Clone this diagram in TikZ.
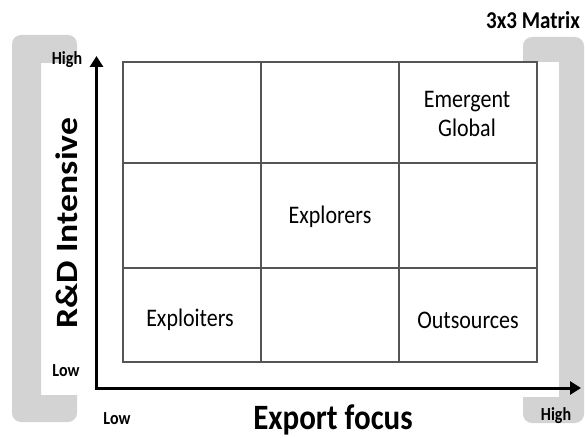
\documentclass[tikz,border=0pt]{standalone}
\usepackage{fontspec}
\setmainfont{Carlito}
\usetikzlibrary{arrows.meta}
\definecolor{brk}{HTML}{D3D3D3}
\definecolor{gridc}{HTML}{555555}
\tikzset{
  bracket/.style={fill=brk, draw=none},
  gridline/.style={draw=gridc, line width=1.1pt},
  axis/.style={line width=3pt, -{Triangle[length=11pt,width=13pt]}},
  cell/.style={font=\fontsize{22}{26}\selectfont, yscale=1.15, align=center, inner sep=0pt},
  small/.style={font=\fontsize{16}{18}\selectfont\bfseries, yscale=1.15, inner sep=0pt},
  big/.style={font=\fontsize{31}{34}\selectfont\bfseries, yscale=1.15, inner sep=0pt}
}
\begin{document}
\begin{tikzpicture}[x=1pt,y=-1pt]
\useasboundingbox (0,0) rectangle (585,438);
% left bracket
\fill[bracket] (77,49) [rounded corners=9pt] -- (77,35) -- (12,35) -- (12,422) -- (77,422) [sharp corners] -- (77,395) -- (41,395) -- (41,63) -- (77,63) -- cycle;
% right bracket
\fill[bracket] (523,50) [rounded corners=9pt] -- (523,37) -- (584,37) -- (584,423) -- (523,423) [sharp corners] -- (523,397) -- (559,397) -- (559,62) -- (523,62) -- cycle;
% grid
\coordinate (g1) at (123,62);
\coordinate (g2) at (537,362);
\draw[gridline] (g1) rectangle (g2);
\coordinate (v1t) at (261,62); \coordinate (v1b) at (261,362);
\coordinate (v2t) at (399,62); \coordinate (v2b) at (399,362);
\coordinate (h1l) at (123,163); \coordinate (h1r) at (537,163);
\coordinate (h2l) at (123,268); \coordinate (h2r) at (537,268);
\draw[gridline] (v1t) -- (v1b) (v2t) -- (v2b) (h1l) -- (h1r) (h2l) -- (h2r);
% axes
\coordinate (o) at (96.5,388);
\coordinate (ytip) at (96.5,56);
\coordinate (xtip) at (581,388);
\draw[axis] ([yshift=-1.5pt]o) -- (ytip);
\draw[axis] ([xshift=-1.5pt]o) -- (xtip);
% labels
\node[cell] (eg) at (467,114) {Emergent\\Global};
\node[cell] (ex) at (330,217) {Explorers};
\node[cell] (ep) at (190,320) {Exploiters};
\node[cell] (os) at (468,320) {Outsources};
\node[small] (hy) at (67,60) {High};
\node[small] (ly) at (66,371) {Low};
\node[small] (lx) at (117,419) {Low};
\node[small] (hx) at (556,416) {High};
\node[font=\fontsize{21}{24}\selectfont\bfseries, yscale=1.15, inner sep=0pt] (title) at (533,20) {3x3 Matrix};
\node[big] (xl) at (333,420) {Export focus};
\node[big, rotate=90] (yl) at (67,223) {R\&D Intensive};
\end{tikzpicture}
\end{document}
